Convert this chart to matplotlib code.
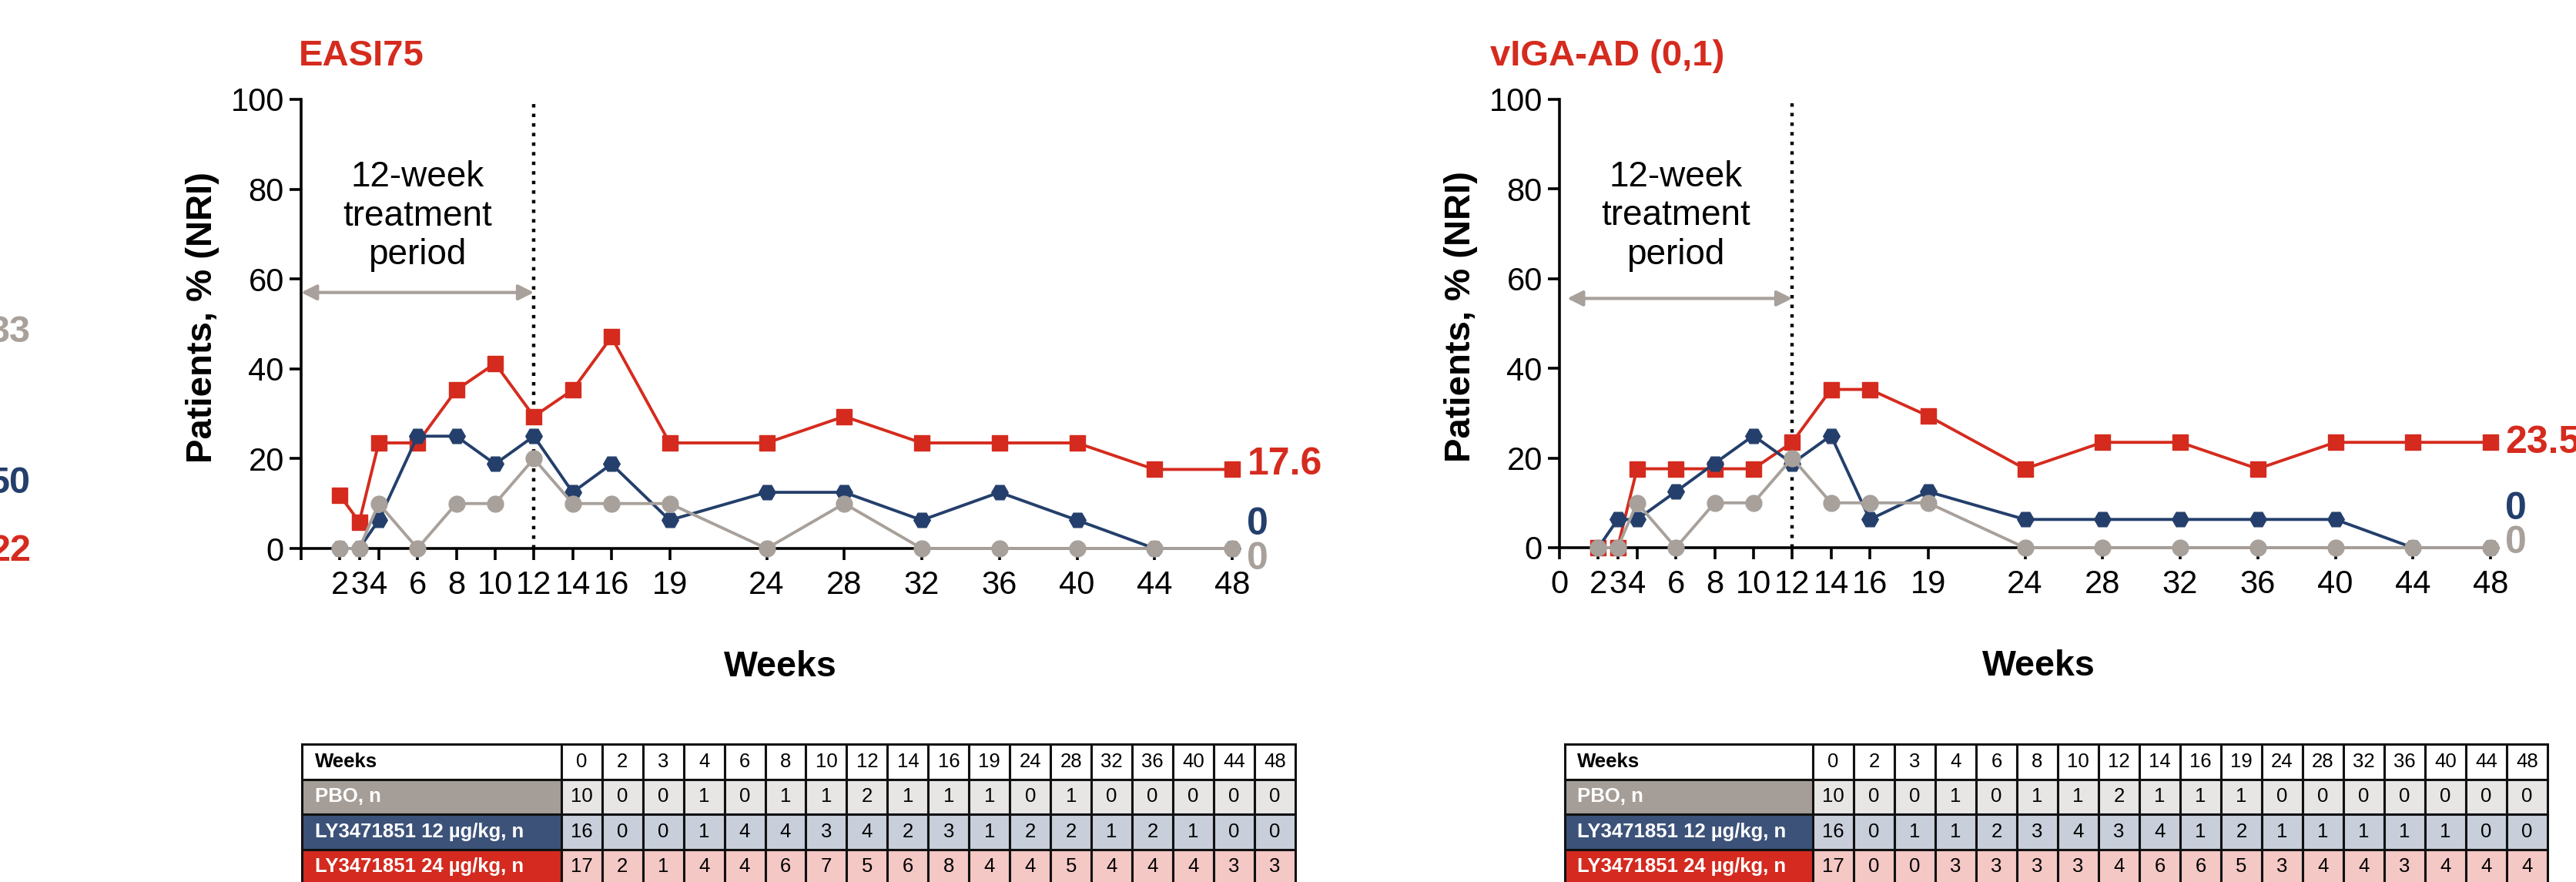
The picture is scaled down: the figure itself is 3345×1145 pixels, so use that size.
import matplotlib
matplotlib.use("Agg")
import matplotlib.pyplot as plt
from matplotlib.table import Table

plt.rcParams['font.family'] = ['Liberation Sans', 'DejaVu Sans']

# weeks shown on the x axis and in the tables
weeks = [0, 2, 3, 4, 6, 8, 10, 12, 14, 16, 19, 24, 28, 32, 36, 40, 44, 48]
plot_weeks = weeks[1:]

# EASI75, % of patients (NRI)
easi_pbo = [0, 0, 10, 0, 10, 10, 20, 10, 10, 10, 0, 10, 0, 0, 0, 0, 0]
easi_12 = [0, 0, 6.3, 25, 25, 18.8, 25, 12.5, 18.8, 6.3, 12.5, 12.5, 6.3, 12.5, 6.3, 0, 0]
easi_24 = [11.8, 5.9, 23.5, 23.5, 35.3, 41.2, 29.4, 35.3, 47.1, 23.5, 23.5, 29.4, 23.5, 23.5, 23.5, 17.6, 17.6]

# vIGA-AD (0,1), % of patients (NRI)
viga_pbo = [0, 0, 10, 0, 10, 10, 20, 10, 10, 10, 0, 0, 0, 0, 0, 0, 0]
viga_12 = [0, 6.3, 6.3, 12.5, 18.8, 25, 18.8, 25, 6.3, 12.5, 6.3, 6.3, 6.3, 6.3, 6.3, 0, 0]
viga_24 = [0, 0, 17.6, 17.6, 17.6, 17.6, 23.5, 35.3, 35.3, 29.4, 17.6, 23.5, 23.5, 17.6, 23.5, 23.5, 23.5]

# responder counts for the tables (week 0 column = N)
easi_pbo_n = [10, 0, 0, 1, 0, 1, 1, 2, 1, 1, 1, 0, 1, 0, 0, 0, 0, 0]
easi_12_n = [16, 0, 0, 1, 4, 4, 3, 4, 2, 3, 1, 2, 2, 1, 2, 1, 0, 0]
easi_24_n = [17, 2, 1, 4, 4, 6, 7, 5, 6, 8, 4, 4, 5, 4, 4, 4, 3, 3]
viga_pbo_n = [10, 0, 0, 1, 0, 1, 1, 2, 1, 1, 1, 0, 0, 0, 0, 0, 0, 0]
viga_12_n = [16, 0, 1, 1, 2, 3, 4, 3, 4, 1, 2, 1, 1, 1, 1, 1, 0, 0]
viga_24_n = [17, 0, 0, 3, 3, 3, 3, 4, 6, 6, 5, 3, 4, 4, 3, 4, 4, 4]

row_labels = ['PBO, n', 'LY3471851 12 \u00b5g/kg, n', 'LY3471851 24 \u00b5g/kg, n']
end_labels_easi = ['0', '0', '17.6']
end_labels_viga = ['0', '0', '23.5']

RED = '#D52B1E'
BLUE = '#243F6B'
GREY = '#A8A09A'
series_colors = [GREY, BLUE, RED]
series_markers = ['o', 'H', 's']
series_ms = [15, 15.5, 14.5]
series_z = [5, 4, 3]
label_bg = ['#A59D97', '#3C5279', '#D42A1F']
cell_bg = ['#E7E6E4', '#C8CFDB', '#F4C8C5']

W, H = 3345, 1145


def px_box(x0, y0, x1, y1):
    return [x0 / W, 1 - y1 / H, (x1 - x0) / W, (y1 - y0) / H]


fig = plt.figure(figsize=(W / 100, H / 100), dpi=100)


def draw_panel(box, series, ends, end_y, arrow_x0, arrow_y, show_zero):
    ax = fig.add_axes(box)
    for vals, c, m, ms, z in zip(series, series_colors, series_markers, series_ms, series_z):
        ax.plot(plot_weeks, vals, color=c, marker=m, ms=ms, lw=2.8,
                clip_on=False, zorder=z)
    ax.axvline(12, color='black', ls=(0, (1, 1.8)), lw=3.2, zorder=1)
    ax.annotate('', xy=(12, arrow_y), xytext=(arrow_x0, arrow_y),
                arrowprops=dict(arrowstyle='<|-|>,head_length=0.6,head_width=0.3',
                                color=GREY, lw=3, mutation_scale=20,
                                shrinkA=0, shrinkB=0))
    ax.text(6, 74, '12-week\ntreatment\nperiod', ha='center', va='center',
            fontsize=33, linespacing=1.2)
    for txt, y, c in zip(ends, end_y, series_colors):
        ax.annotate(txt, xy=(48, y), xytext=(14, 0), textcoords='offset points',
                    ha='left', va='center', fontsize=36, fontweight='bold',
                    color=c, annotation_clip=False)

    ax.set_xlim(0, 48)
    ax.set_ylim(0, 100)
    ax.set_xticks(weeks)
    ax.set_xticklabels([('0' if show_zero else '') if w == 0 else str(w) for w in weeks])
    ax.set_yticks(range(0, 101, 20))
    for s in ['top', 'right']:
        ax.spines[s].set_visible(False)
    for s in ['left', 'bottom']:
        ax.spines[s].set_linewidth(2.6)
        ax.spines[s].set_zorder(2)
    ax.tick_params(axis='both', labelsize=30, width=2.6, length=11)
    ax.tick_params(axis='x', pad=9)
    ax.tick_params(axis='y', pad=5)
    ax.text(-0.106, 0.515, 'Patients, % (NRI)', transform=ax.transAxes,
            rotation=90, ha='center', va='center', fontsize=34, fontweight='bold')
    ax.text(0.515, -0.264, 'Weeks', transform=ax.transAxes, ha='center',
            va='center', fontsize=33.5, fontweight='bold')
    return ax


def draw_table(box, lab_w, counts):
    tax = fig.add_axes(box)
    tax.axis('off')
    tbl = Table(tax, bbox=[0, 0, 1, 1])
    num_w = 53
    rows = [['Weeks'] + [str(w) for w in weeks]]
    for lab, n in zip(row_labels, counts):
        rows.append([lab] + [str(v) for v in n])
    for r, row in enumerate(rows):
        for c, txt in enumerate(row):
            if c == 0:
                fc = 'white' if r == 0 else label_bg[r - 1]
                cell = tbl.add_cell(r, c, lab_w, 1, text=txt, loc='left', facecolor=fc)
                cell.PAD = 0.05
                cell.get_text().set_fontweight('bold')
                cell.get_text().set_color('black' if r == 0 else 'white')
            else:
                fc = 'white' if r == 0 else cell_bg[r - 1]
                cell = tbl.add_cell(r, c, num_w, 1, text=txt, loc='center', facecolor=fc)
            cell.set_linewidth(2.2)
            cell.set_edgecolor('#111111')
    tbl.auto_set_font_size(False)
    tbl.set_fontsize(18.5)
    tax.add_table(tbl)


draw_panel(px_box(391, 129, 1600, 712), [easi_pbo, easi_12, easi_24],
           end_labels_easi, [-2.4, 5.3, 18.7], 0, 57, False)
draw_panel(px_box(2025, 129, 3234, 711), [viga_pbo, viga_12, viga_24],
           end_labels_viga, [1.0, 8.6, 23.3], 0.4, 55.6, True)

fig.text(388 / W, 1 - 73 / H, 'EASI75', color=RED, fontsize=34,
         fontweight='bold', ha='left', va='center')
fig.text(1935 / W, 1 - 73 / H, 'vIGA-AD (0,1)', color=RED, fontsize=34,
         fontweight='bold', ha='left', va='center')

# labels from the neighbouring panel, cut off at the left edge (as in the source)
for txt, y, c in zip(['33', '50', '22'], [432, 627, 715], [GREY, BLUE, RED]):
    fig.text(40 / W, 1 - y / H, txt, color=c, fontsize=35, fontweight='bold',
             ha='right', va='center')

draw_table(px_box(392, 966, 1682, 1148), 337, [easi_pbo_n, easi_12_n, easi_24_n])
draw_table(px_box(2032, 966, 3308, 1148), 322, [viga_pbo_n, viga_12_n, viga_24_n])

fig.savefig('out.png', dpi=100)
